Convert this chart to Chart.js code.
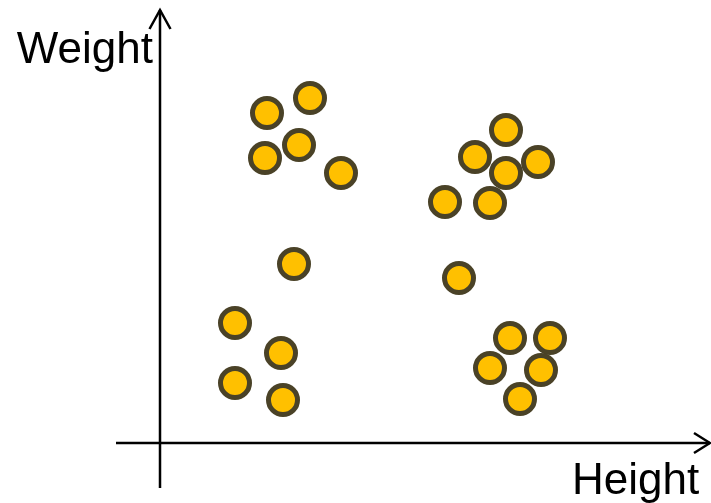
<!DOCTYPE html>
<html>
<head>
<meta charset="utf-8">
<script src="https://cdn.jsdelivr.net/npm/chart.js@4/dist/chart.umd.min.js"></script>
<style>
  html, body { margin: 0; padding: 0; background: #ffffff; }
  #wrap { width: 711px; height: 503px; }
</style>
</head>
<body>
<div id="wrap"><canvas id="c" width="711" height="503"></canvas></div>
<script>
// Data (arbitrary units: Height on x, Weight on y)
const heights = [10.7, 15.0, 10.5, 13.9, 18.1, 13.4, 7.5, 12.1, 7.5, 12.3,
                 34.6, 31.5, 34.6, 37.8, 28.5, 33.0, 29.9, 35.0, 39.0, 33.0, 38.1, 36.0];
const weights = [33.0, 34.5, 28.5, 29.8, 27.0, 17.9, 12.0, 9.0, 6.0, 4.3,
                 31.3, 28.6, 27.0, 28.1, 24.1, 24.0, 16.5, 10.5, 10.5, 7.5, 7.3, 4.4];
const xAxisLabel = "Height";
const yAxisLabel = "Weight";

const points = heights.map((h, i) => ({ x: h, y: weights[i] }));

const axesPlugin = {
  id: 'arrowAxes',
  beforeDatasetsDraw(chart) {
    const { ctx, chartArea, scales } = chart;
    const xs = scales.x, ys = scales.y;
    const ox = xs.getPixelForValue(0);
    const oy = ys.getPixelForValue(0);
    ctx.save();
    ctx.strokeStyle = '#000000';
    ctx.lineWidth = 2.5;
    ctx.lineCap = 'butt';
    // x axis
    const xStart = xs.getPixelForValue(-4.4);
    const xEnd = chartArea.right - 1;
    ctx.beginPath();
    ctx.moveTo(xStart, oy);
    ctx.lineTo(xEnd, oy);
    ctx.stroke();
    ctx.beginPath();
    ctx.moveTo(xEnd - 16, oy - 10);
    ctx.lineTo(xEnd, oy);
    ctx.lineTo(xEnd - 16, oy + 10);
    ctx.stroke();
    // y axis
    const yStart = ys.getPixelForValue(-4.5);
    const yEnd = ys.getPixelForValue(43.3);
    ctx.beginPath();
    ctx.moveTo(ox, yStart);
    ctx.lineTo(ox, yEnd);
    ctx.stroke();
    ctx.beginPath();
    ctx.moveTo(ox - 10.5, yEnd + 19);
    ctx.lineTo(ox, yEnd);
    ctx.lineTo(ox + 10.5, yEnd + 19);
    ctx.stroke();
    // labels
    ctx.fillStyle = '#000000';
    ctx.font = '44px "Liberation Sans", Arial, sans-serif';
    ctx.textBaseline = 'alphabetic';
    ctx.textAlign = 'right';
    ctx.fillText(yAxisLabel, ox - 7, ys.getPixelForValue(38.0));
    ctx.textAlign = 'left';
    ctx.fillText(xAxisLabel, xs.getPixelForValue(41.2), ys.getPixelForValue(-5.1));
    ctx.restore();
  }
};

new Chart(document.getElementById('c'), {
  type: 'scatter',
  data: {
    datasets: [{
      data: points,
      backgroundColor: '#FFC000',
      borderColor: '#4A4227',
      borderWidth: 5,
      pointRadius: 14.5,
      pointHoverRadius: 14.5
    }]
  },
  options: {
    responsive: false,
    animation: false,
    events: [],
    layout: { padding: 0, autoPadding: false },
    plugins: { legend: { display: false }, tooltip: { enabled: false } },
    scales: {
      x: { type: 'linear', display: false, min: -16, max: 55.1 },
      y: { type: 'linear', display: false, min: -6.0, max: 44.3 }
    }
  },
  plugins: [axesPlugin]
});
</script>
</body>
</html>
